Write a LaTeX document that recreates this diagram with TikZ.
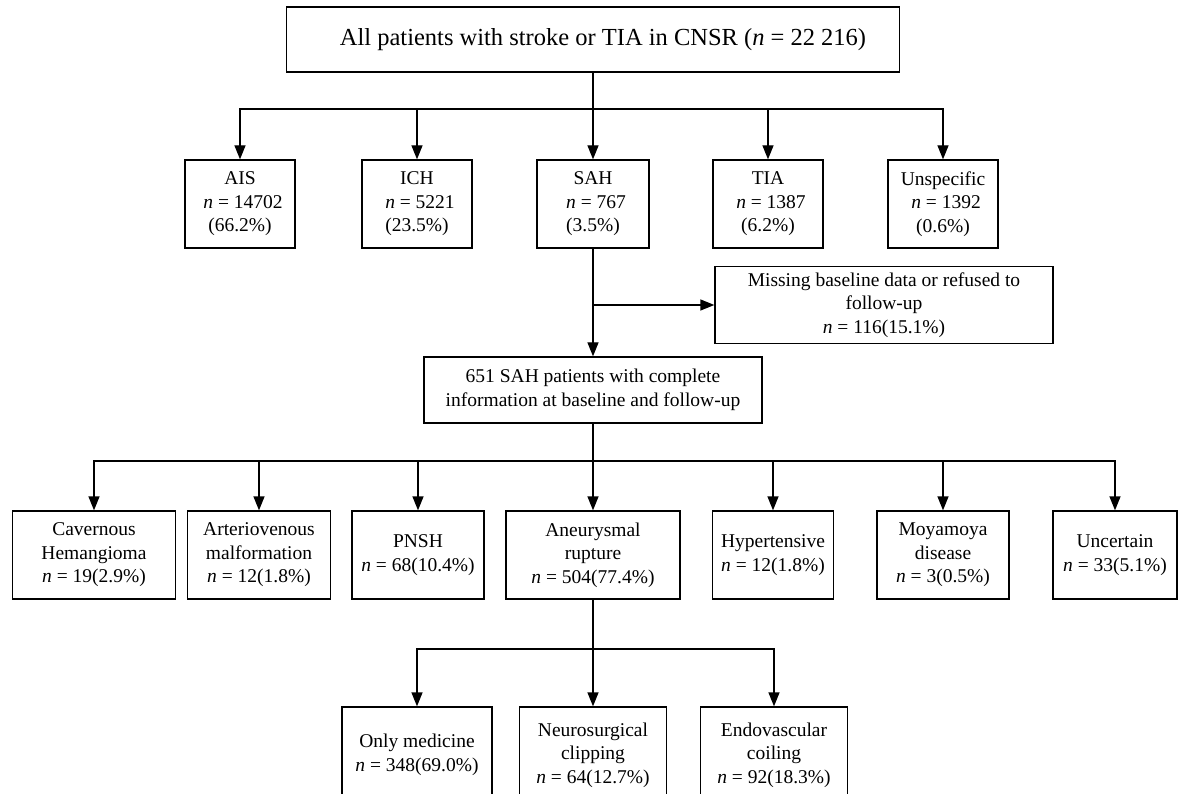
\documentclass[tikz,border=0pt]{standalone}
\usepackage{fontspec}
\setmainfont{Liberation Serif}
\usetikzlibrary{arrows.meta}
\tikzset{
  box/.style={draw, line width=1.3pt, inner sep=1pt, align=center,
    font=\fontsize{19.5}{23.5}\selectfont},
  conn/.style={line width=1.3pt},
  arr/.style={line width=1.3pt, -{Triangle[length=14pt,width=11pt]}}
}
\begin{document}
\begin{tikzpicture}[x=1pt,y=-1pt]
\useasboundingbox (0,0) rectangle (1179,794);
% top
\node[box, minimum width=613pt, minimum height=65pt, font=\fontsize{24.5}{28}\selectfont] (top) at (593,39.5)
  {\hspace{20pt}All patients with stroke or TIA in CNSR (\textit{n} = 22 216)};
% row 1
\node[box, minimum width=110pt, minimum height=88pt] (ais) at (240,204) {AIS\\\hspace{6pt}\textit{n} = 14702\\(66.2\%)};
\node[box, minimum width=110pt, minimum height=88pt] (ich) at (417,204) {ICH\\\hspace{6pt}\textit{n} = 5221\\(23.5\%)};
\node[box, minimum width=112pt, minimum height=88pt] (sah) at (593,204) {SAH\\\hspace{6pt}\textit{n} = 767\\(3.5\%)};
\node[box, minimum width=110pt, minimum height=88pt] (tia) at (768,204) {TIA\\\hspace{6pt}\textit{n} = 1387\\(6.2\%)};
\node[box, minimum width=110pt, minimum height=88pt] (uns) at (943,204) {Unspecific\\\hspace{6pt}\textit{n} = 1392\\(0.6\%)};
% missing and 651
\node[box, minimum width=338pt, minimum height=77pt] (miss) at (884,305)
  {Missing baseline data or refused to\\follow-up\\\textit{n} = 116(15.1\%)};
\node[box, minimum width=338pt, minimum height=66pt] (all651) at (593,390)
  {651 SAH patients with complete\\information at baseline and follow-up};
% row 2
\node[box, minimum width=163pt, minimum height=88pt] (cav) at (94,555) {Cavernous\\Hemangioma\\\textit{n} = 19(2.9\%)};
\node[box, minimum width=143pt, minimum height=88pt] (avm) at (259,555) {Arteriovenous\\malformation\\\textit{n} = 12(1.8\%)};
\node[box, minimum width=132pt, minimum height=88pt] (pnsh) at (418,555) {PNSH\\\textit{n} = 68(10.4\%)};
\node[box, minimum width=174pt, minimum height=88pt] (aneu) at (593,555) {Aneurysmal\\rupture\\\textit{n} = 504(77.4\%)};
\node[box, minimum width=121pt, minimum height=88pt] (hyp) at (773,555) {Hypertensive\\\textit{n} = 12(1.8\%)};
\node[box, minimum width=132pt, minimum height=88pt] (moya) at (943,555) {Moyamoya\\disease\\\textit{n} = 3(0.5\%)};
\node[box, minimum width=124pt, minimum height=88pt] (unc) at (1115,555) {Uncertain\\\textit{n} = 33(5.1\%)};
% row 3
\node[box, minimum width=150pt, minimum height=96pt] (med) at (417,755) {Only medicine\\\textit{n} = 348(69.0\%)};
\node[box, minimum width=147pt, minimum height=96pt] (clip) at (593,755) {Neurosurgical\\clipping\\\textit{n} = 64(12.7\%)};
\node[box, minimum width=147pt, minimum height=96pt] (coil) at (774,755) {Endovascular\\coiling\\\textit{n} = 92(18.3\%)};
% connectors
\coordinate (j1) at (593,109);
\coordinate (j2) at (593,305);
\coordinate (j3) at (593,461);
\coordinate (j4) at (593,649);
\draw[conn] (top.south) -- (j1);
\draw[arr] (j1) -| (ais.north);
\draw[arr] (j1) -| (ich.north);
\draw[arr] (j1) -- (sah.north);
\draw[arr] (j1) -| (tia.north);
\draw[arr] (j1) -| (uns.north);
\draw[arr] (sah.south) -- (all651.north);
\draw[arr] (j2) -- (miss.west);
\draw[conn] (all651.south) -- (j3);
\draw[arr] (j3) -| (cav.north);
\draw[arr] (j3) -| (avm.north);
\draw[arr] (j3) -| (pnsh.north);
\draw[arr] (j3) -- (aneu.north);
\draw[arr] (j3) -| (hyp.north);
\draw[arr] (j3) -| (moya.north);
\draw[arr] (j3) -| (unc.north);
\draw[conn] (aneu.south) -- (j4);
\draw[arr] (j4) -| (med.north);
\draw[arr] (j4) -- (clip.north);
\draw[arr] (j4) -| (coil.north);
\end{tikzpicture}
\end{document}
